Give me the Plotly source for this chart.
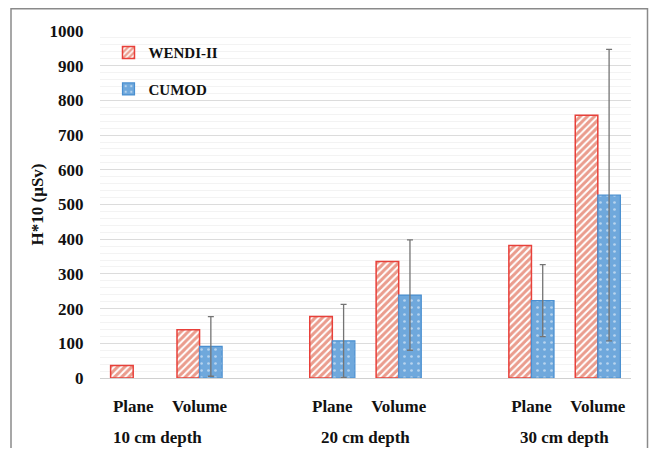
import plotly.graph_objects as go

categories = ["10-Plane", "10-Volume", "gap1", "20-Plane", "20-Volume", "gap2", "30-Plane", "30-Volume"]
tick_labels = ["Plane", "Volume", "", "Plane", "Volume", "", "Plane", "Volume"]
group_labels = ["10 cm depth", "20 cm depth", "30 cm depth"]
group_centers = [0.36, 3.5, 6.5]

bar_cats = ["10-Plane", "10-Volume", "20-Plane", "20-Volume", "30-Plane", "30-Volume"]
wendi = [36, 139, 177, 336, 382, 757]
cumod = [None, 91, 107, 239, 223, 527]
cumod_err = [None, 86, 105, 159, 104, 420]

RED = "#E8403A"
HATCH = "#D63A1C"
BLUE = "#6FA8DC"
BLUE_LINE = "#4A8FD0"
FONT = "Liberation Serif, Times New Roman, serif"

# plot area on screen: x 100..631, y 31..378 (page body adds 8px offset)
fig = go.Figure()
fig.add_trace(go.Bar(
    x=bar_cats, y=wendi, name="<b>WENDI-II</b>", legendgroup="a",
    marker=dict(color="white", line=dict(color=RED, width=1.5),
                pattern=dict(shape="/", fgcolor=HATCH, bgcolor="white", size=5, solidity=0.6)),
))
fig.add_trace(go.Bar(
    x=bar_cats, y=cumod, name="<b>CUMOD</b>", legendgroup="b",
    marker=dict(color=BLUE, line=dict(color=BLUE_LINE, width=1.2),
                pattern=dict(shape=".", fgcolor="white", bgcolor=BLUE, size=7, solidity=0.12)),
    error_y=dict(type="data", array=cumod_err, visible=True, color="#747474", thickness=1.3, width=3),
))

# outer border
fig.add_shape(type="rect", xref="paper", yref="paper",
              x0=(11 - 100) / 531, x1=(647.5 - 100) / 531,
              y0=(378 - 470) / 347, y1=(378 - 8.8) / 347,
              line=dict(color="#8a8a8a", width=1.5), fillcolor="rgba(0,0,0,0)", layer="below")

for lbl, xc in zip(group_labels, group_centers):
    fig.add_annotation(x=xc, y=(378 - 437) / 347, xref="x", yref="paper",
                       yanchor="middle", xanchor="center",
                       text="<b>%s</b>" % lbl, showarrow=False,
                       font=dict(family=FONT, size=17, color="#111"))

fig.update_layout(
    width=641, height=440,
    margin=dict(l=92, r=18, t=23, b=70, autoexpand=False),
    paper_bgcolor="white", plot_bgcolor="white",
    barmode="group", bargap=0.32, bargroupgap=0,
    font=dict(family=FONT, color="#111"),
    showlegend=True,
    legend=dict(x=0.016, y=0.985, xanchor="left", yanchor="top",
                font=dict(family=FONT, size=15, color="#111"),
                tracegroupgap=14, bgcolor="rgba(0,0,0,0)", itemwidth=30),
    xaxis=dict(type="category", categoryorder="array", categoryarray=categories,
               tickmode="array", tickvals=categories,
               ticktext=["<b>%s</b>" % t if t else "" for t in tick_labels],
               tickfont=dict(family=FONT, size=17, color="#111"),
               ticks="outside", ticklen=13, tickcolor="rgba(0,0,0,0)",
               showline=False, showgrid=False, range=[-0.5, 7.5], automargin=False),
    yaxis=dict(range=[0, 1000], dtick=100, tick0=0, automargin=False,
               tickfont=dict(family=FONT, size=17, color="#111"),
               tickprefix="<b>", ticksuffix="</b>",
               showgrid=True, gridcolor="#dcdcdc", gridwidth=1,
               zeroline=True, zerolinecolor="#d0d0d0", zerolinewidth=1,
               minor=dict(dtick=20, showgrid=True, gridcolor="#f3f3f3", gridwidth=1),
               ticks="outside", ticklen=12, tickcolor="rgba(0,0,0,0)",
               title=dict(text="<b>H*10 (µSv)</b>", font=dict(family=FONT, size=17, color="#111"), standoff=1)),
)

fig.write_html("out.html")
